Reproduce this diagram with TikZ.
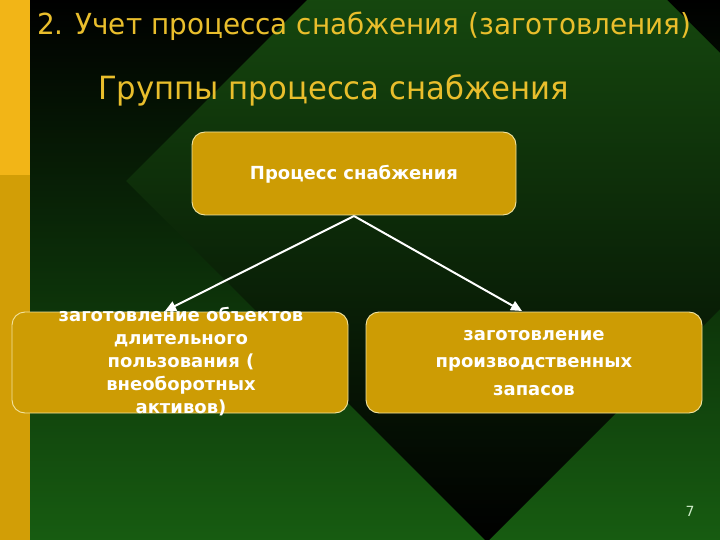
\documentclass[tikz,border=0pt]{standalone}
\usepackage{fontspec}
\setmainfont{DejaVu Sans}
\newfontfamily\titlefont[FakeStretch=0.96]{DejaVu Sans}
\usetikzlibrary{arrows.meta}
\definecolor{bggreen}{HTML}{175C11}
\definecolor{dmgreen}{HTML}{1C5E13}
\definecolor{stripA}{HTML}{F2B517}
\definecolor{stripB}{HTML}{D29E06}
\definecolor{boxfill}{HTML}{CD9C04}
\definecolor{boxline}{HTML}{F2E3A0}
\definecolor{titlecol}{HTML}{E9BE2C}
\definecolor{numcol}{HTML}{CDEBC8}
\tikzset{
  box/.style={draw=boxline, line width=0.9pt, fill=boxfill, rounded corners=13pt},
  boxtext/.style={text=white, font=\bfseries\fontsize{18}{23}\selectfont, align=center},
  conn/.style={draw=white, line width=2pt, -{Triangle[length=11pt,width=10pt]}},
}
\begin{document}
\begin{tikzpicture}[x=1pt,y=-1pt]
\useasboundingbox (0,0) rectangle (720,540);
% background
\shade[top color=black, bottom color=bggreen] (0,0) rectangle (720,540);
\begin{scope}
\clip (0,0) rectangle (720,540);
\shade[top color=dmgreen, bottom color=black] (126,181) -- (487,-180) -- (848,181) -- (487,542) -- cycle;
\end{scope}
% left strip
\fill[stripA] (0,0) rectangle (30,175);
\fill[stripB] (0,175) rectangle (30,540);
% titles
\node[anchor=base west, inner sep=0, text=titlecol, font=\titlefont\fontsize{29}{32}\selectfont] (title) at (37,35) {2. Учет процесса снабжения (заготовления)};
\node[anchor=base west, inner sep=0, text=titlecol, font=\titlefont\fontsize{32}{36}\selectfont] (sub) at (98,100) {Группы процесса снабжения};
% boxes
\path[box] (192,132) rectangle (516,215);
\node[boxtext] (top) at (354,174) {Процесс снабжения};
\coordinate (topb) at (354,216);
\path[box] (12,312) rectangle (348,413);
\node[boxtext] (left) at (181,362) {заготовление объектов\\длительного\\ пользования (\\внеоборотных\\активов)};
\coordinate (leftt) at (165,311);
\path[box] (366,312) rectangle (702,413);
\node[boxtext, font=\bfseries\fontsize{18}{27.5}\selectfont] (right) at (534,363) {заготовление\\производственных\\запасов};
\coordinate (rightt) at (522,311);
% connectors
\draw[conn] (topb) -- (leftt);
\draw[conn] (topb) -- (rightt);
% page number
\node[text=numcol, font=\fontsize{14}{16}\selectfont] (num) at (690,511) {7};
\end{tikzpicture}
\end{document}
